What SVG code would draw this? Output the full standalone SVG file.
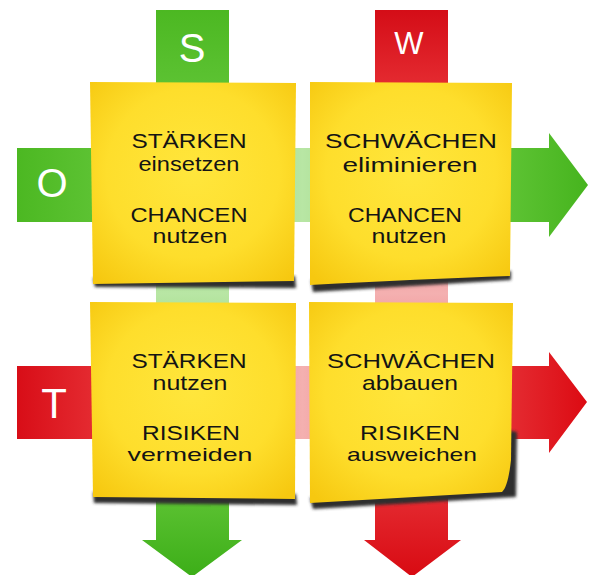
<svg xmlns="http://www.w3.org/2000/svg" width="589" height="575" viewBox="0 0 589 575">
  <defs>
    <linearGradient id="gS" gradientUnits="userSpaceOnUse" x1="0" y1="10" x2="0" y2="577">
      <stop offset="0" stop-color="#4cb822"/>
      <stop offset="0.13" stop-color="#5cc232"/>
      <stop offset="0.3" stop-color="#86d068"/>
      <stop offset="0.5" stop-color="#b8e6a4"/>
      <stop offset="0.66" stop-color="#86d068"/>
      <stop offset="0.86" stop-color="#5cc232"/>
      <stop offset="1" stop-color="#3cae18"/>
    </linearGradient>
    <linearGradient id="gW" gradientUnits="userSpaceOnUse" x1="0" y1="10" x2="0" y2="577">
      <stop offset="0" stop-color="#d40d17"/>
      <stop offset="0.13" stop-color="#e42a30"/>
      <stop offset="0.3" stop-color="#ec6c70"/>
      <stop offset="0.5" stop-color="#f4b0b0"/>
      <stop offset="0.66" stop-color="#ec6c70"/>
      <stop offset="0.86" stop-color="#e42a30"/>
      <stop offset="1" stop-color="#d80a12"/>
    </linearGradient>
    <linearGradient id="gO" gradientUnits="userSpaceOnUse" x1="17" y1="0" x2="588" y2="0">
      <stop offset="0" stop-color="#4cb822"/>
      <stop offset="0.13" stop-color="#5cc232"/>
      <stop offset="0.3" stop-color="#86d068"/>
      <stop offset="0.5" stop-color="#b8e6a4"/>
      <stop offset="0.7" stop-color="#86d068"/>
      <stop offset="0.87" stop-color="#5cc232"/>
      <stop offset="1" stop-color="#46b41e"/>
    </linearGradient>
    <linearGradient id="gT" gradientUnits="userSpaceOnUse" x1="17" y1="0" x2="588" y2="0">
      <stop offset="0" stop-color="#d80d17"/>
      <stop offset="0.13" stop-color="#e42a30"/>
      <stop offset="0.3" stop-color="#ec6c70"/>
      <stop offset="0.5" stop-color="#f4b0b0"/>
      <stop offset="0.7" stop-color="#ec6c70"/>
      <stop offset="0.87" stop-color="#e42a30"/>
      <stop offset="1" stop-color="#dc0a12"/>
    </linearGradient>
    <radialGradient id="gNote" cx="0.5" cy="0.45" r="0.7">
      <stop offset="0" stop-color="#ffe63c"/>
      <stop offset="0.6" stop-color="#fede2c"/>
      <stop offset="1" stop-color="#f6c810"/>
    </radialGradient>
    <filter id="blur" x="-10%" y="-10%" width="120%" height="130%">
      <feGaussianBlur stdDeviation="1.6"/>
    </filter>
  </defs>
  <style>
    .note { fill: url(#gNote); }
    .shadow { fill: #2e2e2e; filter: url(#blur); }
    .caps { font-family: "Liberation Sans", "DejaVu Sans", sans-serif; font-size: 20px; fill: #141414; text-anchor: middle; }
    .low { font-family: "Liberation Sans", "DejaVu Sans", sans-serif; font-size: 21px; fill: #141414; text-anchor: middle; }
    .low2 { font-family: "Liberation Sans", "DejaVu Sans", sans-serif; font-size: 19px; fill: #141414; text-anchor: middle; }
    .letter { font-family: "Liberation Sans", "DejaVu Sans", sans-serif; fill: #ffffff; text-anchor: middle; }
  </style>
  <rect width="589" height="575" fill="#ffffff"/>

  <g id="connectors">
    <path id="axis-S" d="M156,10 H229 V540 H242 L192,577 L142,540 H156 Z" fill="url(#gS)"/>
    <path id="axis-W" d="M375,10 H448 V540 H461 L412,577 L364,540 H375 Z" fill="url(#gW)"/>
    <path id="axis-O" d="M17,148 H549 V133 L588,185 L549,237 V222 H17 Z" fill="url(#gO)"/>
    <path id="axis-T" d="M17,366 H549 V352 L587,402 L549,453 V439 H17 Z" fill="url(#gT)"/>
  </g>

  <g id="label-S"><text class="letter" x="192" y="62" font-size="40">S</text></g>
  <g id="label-W"><text class="letter" x="409" y="54" font-size="31">W</text></g>
  <g id="label-O"><text class="letter" x="52" y="197" font-size="40">O</text></g>
  <g id="label-T"><text class="letter" x="54" y="418" font-size="42">T</text></g>

  <g id="note-SO">
    <path class="shadow" d="M93,278 L295,276 L296,288 L95,287 Z"/>
    <path class="note" d="M90,82 L296,83 L294,281 L93,284 Z"/>
    <text class="caps" x="189" y="148" textLength="115" lengthAdjust="spacingAndGlyphs">STÄRKEN</text>
    <text class="low" x="189" y="171" textLength="101" lengthAdjust="spacingAndGlyphs">einsetzen</text>
    <text class="caps" x="189" y="222" textLength="117" lengthAdjust="spacingAndGlyphs">CHANCEN</text>
    <text class="low" x="190" y="243" textLength="75" lengthAdjust="spacingAndGlyphs">nutzen</text>
  </g>

  <g id="note-WO">
    <path class="shadow" d="M311,280 L511,271 L511,280 L313,292 Z"/>
    <path class="note" d="M310,82 L512,83 L510,276 Q420,279 310,285 Z"/>
    <text class="caps" x="411" y="148" textLength="172" lengthAdjust="spacingAndGlyphs">SCHWÄCHEN</text>
    <text class="low" x="410" y="172" textLength="135" lengthAdjust="spacingAndGlyphs">eliminieren</text>
    <text class="caps" x="405" y="222" textLength="114" lengthAdjust="spacingAndGlyphs">CHANCEN</text>
    <text class="low" x="409" y="243" textLength="75" lengthAdjust="spacingAndGlyphs">nutzen</text>
  </g>

  <g id="note-ST">
    <path class="shadow" d="M93,492 L296,494 L297,505 L94,503 Z"/>
    <path class="note" d="M90,302 L296,303 L295,499 L93,497 Z"/>
    <text class="caps" x="189" y="368" textLength="115" lengthAdjust="spacingAndGlyphs">STÄRKEN</text>
    <text class="low" x="190" y="390" textLength="75" lengthAdjust="spacingAndGlyphs">nutzen</text>
    <text class="caps" x="191" y="440" textLength="98" lengthAdjust="spacingAndGlyphs">RISIKEN</text>
    <text class="low2" x="190" y="461" textLength="125" lengthAdjust="spacingAndGlyphs">vermeiden</text>
  </g>

  <g id="note-WT">
    <path class="shadow" d="M505,430 L517,432 L516,497 L313,509 L310,498 Z"/>
    <path class="note" d="M309,302 L513,303 L511,460 Q508,487 502,492 L310,503 Z"/>
    <text class="caps" x="411" y="368" textLength="168" lengthAdjust="spacingAndGlyphs">SCHWÄCHEN</text>
    <text class="low" x="410" y="390" textLength="96" lengthAdjust="spacingAndGlyphs">abbauen</text>
    <text class="caps" x="410" y="440" textLength="100" lengthAdjust="spacingAndGlyphs">RISIKEN</text>
    <text class="low2" x="412" y="461" textLength="130" lengthAdjust="spacingAndGlyphs">ausweichen</text>
  </g>
</svg>
